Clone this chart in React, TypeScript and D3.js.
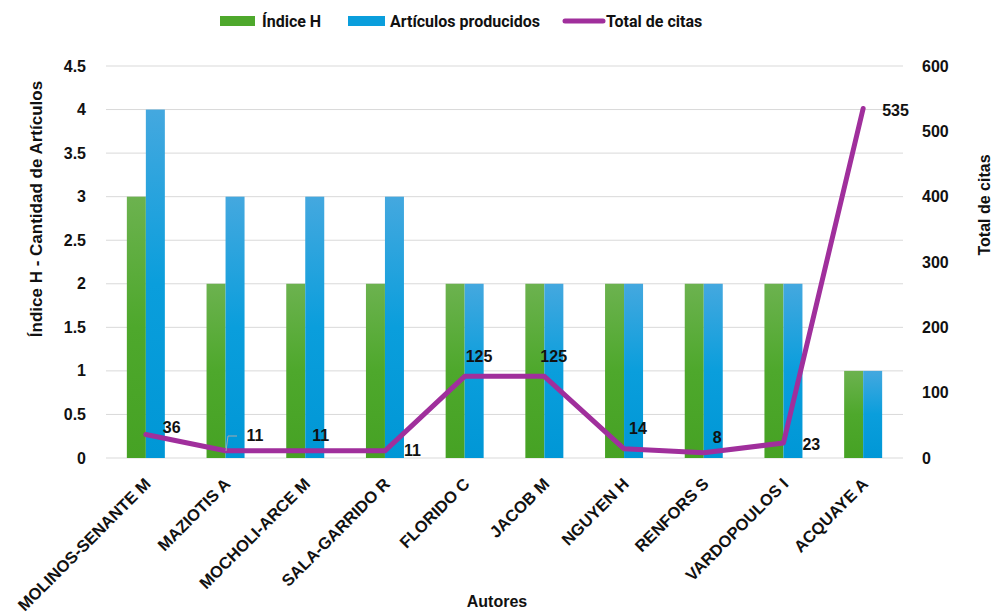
import React from 'react'
import * as d3 from 'd3'

const autores = ['MOLINOS-SENANTE M', 'MAZIOTIS A', 'MOCHOLI-ARCE M', 'SALA-GARRIDO R', 'FLORIDO C', 'JACOB M', 'NGUYEN H', 'RENFORS S', 'VARDOPOULOS I', 'ACQUAYE A']
const indiceH = [3, 2, 2, 2, 2, 2, 2, 2, 2, 1]
const articulos = [4, 3, 3, 3, 2, 2, 2, 2, 2, 1]
const citas = [36, 11, 11, 11, 125, 125, 14, 8, 23, 535]
const leftTicks = [0, 0.5, 1, 1.5, 2, 2.5, 3, 3.5, 4, 4.5]
const rightTicks = [0, 100, 200, 300, 400, 500, 600]
// label offsets (dx, dy) relative to the line point
const labelOff = [[17, -7], [21, -15], [7, -15], [19, 0], [1, -20], [-4, -20], [5, -20], [9, -15], [19, 1], [19, 2]]

const W = 994, H = 615
const m = { left: 106, right: 903, top: 66, bottom: 458 }
const font = '"Liberation Sans", Arial, sans-serif'

export default function App() {
  const x = d3.scaleBand().domain(autores).range([m.left, m.right])
  const y = d3.scaleLinear().domain([0, 4.5]).range([m.bottom, m.top])
  const y2 = d3.scaleLinear().domain([0, 600]).range([m.bottom, m.top])
  const bw = 19

  const line = d3.line<number>()
    .x((_, i) => (x(autores[i]) as number) + x.bandwidth() / 2)
    .y(d => y2(d))

  return (
    <svg width={W} height={H} style={{ position: 'absolute', left: 0, top: 0, background: '#fff' }}>
      <defs>
        <linearGradient id="gG" x1="0" y1="0" x2="0" y2="1">
          <stop offset="0" stopColor="#6cb24f" />
          <stop offset="0.5" stopColor="#4ea82c" />
          <stop offset="1" stopColor="#46a224" />
        </linearGradient>
        <linearGradient id="gB" x1="0" y1="0" x2="0" y2="1">
          <stop offset="0" stopColor="#44a8df" />
          <stop offset="0.5" stopColor="#0a9edc" />
          <stop offset="1" stopColor="#0097d6" />
        </linearGradient>
      </defs>
      {leftTicks.map(t => (
        <line key={t} x1={m.left} x2={m.right} y1={y(t)} y2={y(t)} stroke="#d9d9d9" strokeWidth={1} />
      ))}
      {leftTicks.map(t => (
        <text key={'l' + t} x={86} y={y(t)} dy="0.35em" textAnchor="end" fontFamily={font} fontWeight="bold" fontSize={16} fill="#111">{t}</text>
      ))}
      {rightTicks.map(t => (
        <text key={'r' + t} x={922} y={y2(t)} dy="0.35em" textAnchor="start" fontFamily={font} fontWeight="bold" fontSize={16} fill="#111">{t}</text>
      ))}
      {autores.map((a, i) => {
        const cx = (x(a) as number) + x.bandwidth() / 2
        return (
          <g key={a}>
            <rect x={cx - bw} y={y(indiceH[i])} width={bw} height={y(0) - y(indiceH[i])} fill="url(#gG)" />
            <rect x={cx} y={y(articulos[i])} width={bw} height={y(0) - y(articulos[i])} fill="url(#gB)" />
            <text transform={`translate(${cx + 6},${m.bottom + 27}) rotate(-45)`} textAnchor="end" fontFamily={font} fontWeight="bold" fontSize={16.5} fill="#111">{a}</text>
          </g>
        )
      })}
      <path d={line(citas) as string} fill="none" stroke="#a02f9c" strokeWidth={5} strokeLinejoin="round" strokeLinecap="round" />
      <path d="M226,451 L228,436 L237,436" fill="none" stroke="#aaa" strokeWidth={1} />
      {citas.map((c, i) => {
        const cx = (x(autores[i]) as number) + x.bandwidth() / 2
        return (
          <text key={'c' + i} x={cx + labelOff[i][0]} y={y2(c) + labelOff[i][1]} dy="0.35em" fontFamily={font} fontWeight="bold" fontSize={16} fill="#111">{c}</text>
        )
      })}
      <text transform="translate(42,209) rotate(-90)" textAnchor="middle" fontFamily={font} fontWeight="bold" fontSize={17} fill="#111">Índice H - Cantidad de Artículos</text>
      <text transform="translate(990,205) rotate(-90)" textAnchor="middle" fontFamily={font} fontWeight="bold" fontSize={16} fill="#111">Total de citas</text>
      <text x={497} y={607} textAnchor="middle" fontFamily={font} fontWeight="bold" fontSize={16} fill="#111">Autores</text>
      <g fontFamily="Roboto, sans-serif" fontWeight="bold" fontSize={16} fill="#111">
        <rect x={220} y={16} width={35} height={10} fill="#4ea82c" />
        <text x={262} y={27}>Índice H</text>
        <rect x={348} y={16} width={37} height={10} fill="#0a9edc" />
        <text x={390} y={27}>Artículos producidos</text>
        <line x1={565} x2={603} y1={21} y2={21} stroke="#a02f9c" strokeWidth={5} strokeLinecap="round" />
        <text x={606} y={27}>Total de citas</text>
      </g>
    </svg>
  )
}
